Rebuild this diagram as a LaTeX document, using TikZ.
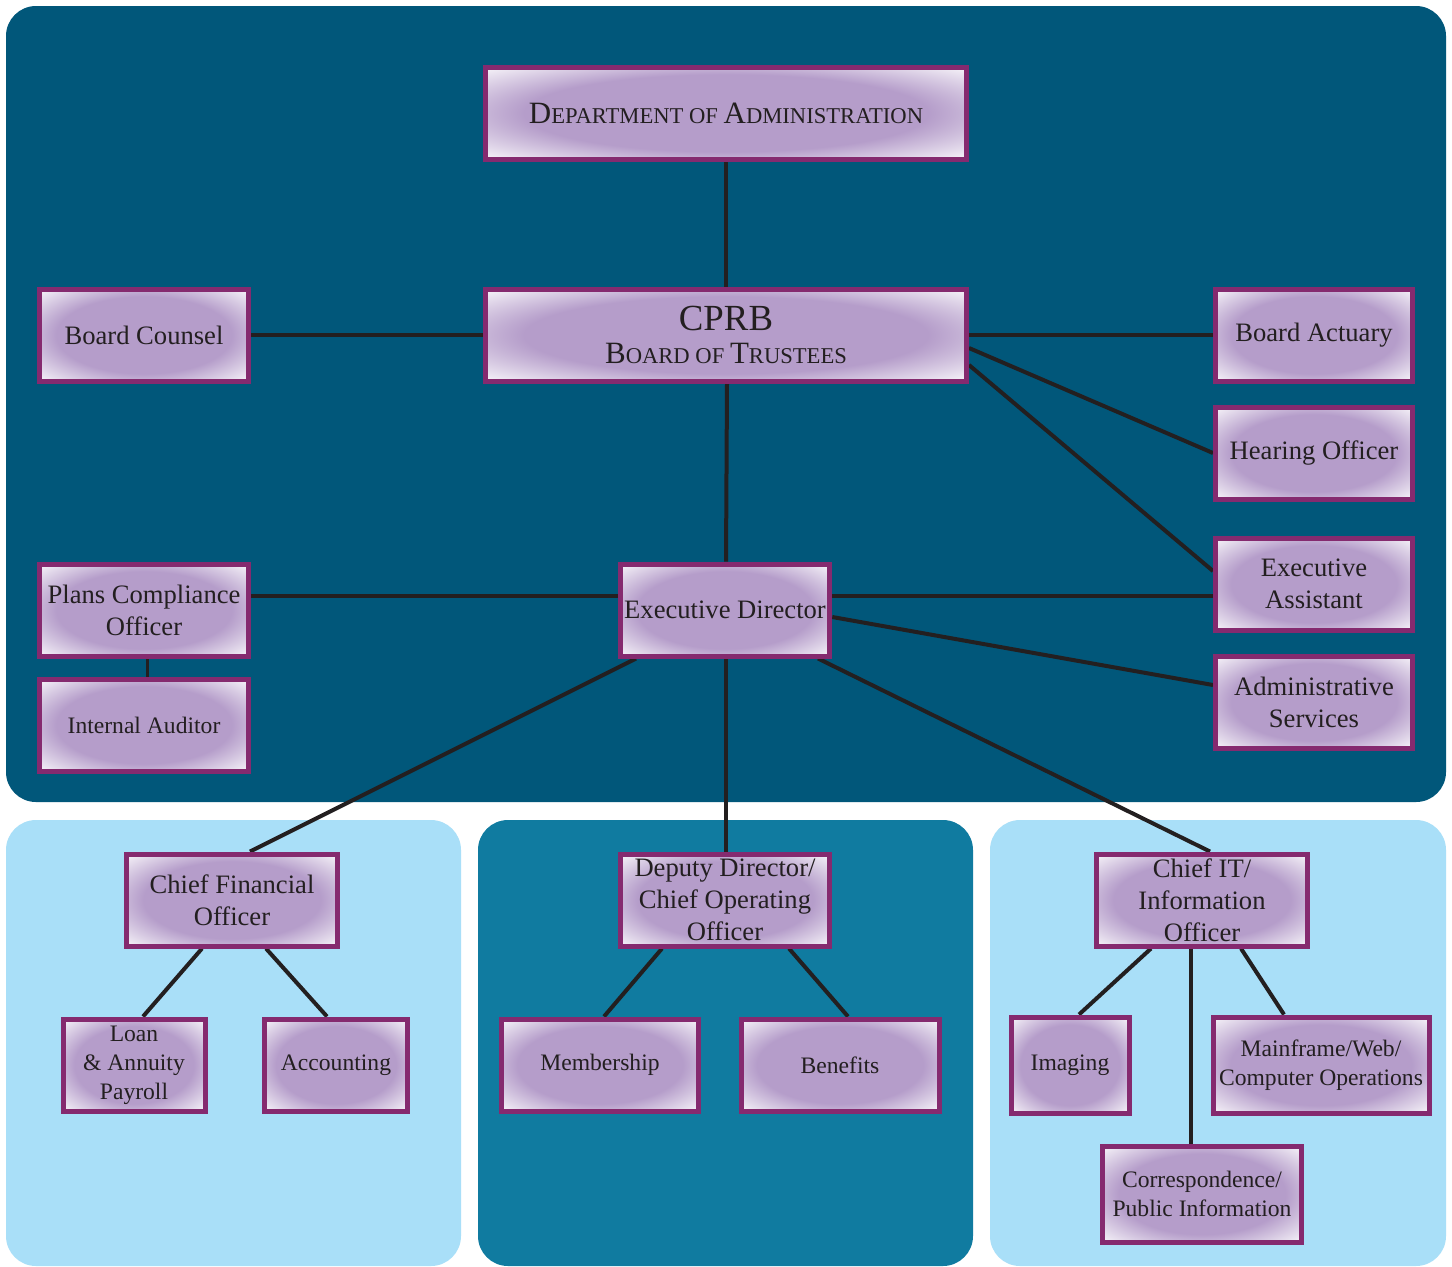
\documentclass[tikz,border=0pt]{standalone}
\usepackage{fontspec}
\setmainfont{Liberation Serif}
\usetikzlibrary{calc}
\definecolor{darkpanel}{HTML}{01577A}
\definecolor{midpanel}{HTML}{107BA0}
\definecolor{lightpanel}{HTML}{A9DFF8}
\definecolor{boxborder}{HTML}{852A6F}
\definecolor{boxp}{HTML}{B59DCA}
\definecolor{linec}{HTML}{231F20}
\definecolor{textc}{HTML}{231F20}
\pgfdeclareradialshading{boxsh}{\pgfpoint{0bp}{0bp}}{color(0bp)=(boxp); color(21bp)=(boxp); color(37bp)=(white); color(50bp)=(white)}
\pgfdeclarelayer{bg}
\pgfdeclarelayer{lines}
\pgfsetlayers{bg,lines,main}
\newcommand{\bigtxt}{\fontsize{13.3pt}{16pt}\selectfont}
\newcommand{\smalltxt}{\fontsize{11.8pt}{14.5pt}\selectfont}
\newcommand{\capL}[1]{{\fontsize{15.5pt}{16pt}\selectfont #1}}
\tikzset{
  box/.style={draw=boxborder, line width=2.5pt, shade, shading=boxsh,
    minimum height=46pt, inner xsep=2pt, inner ysep=0pt, align=center,
    text=textc},
  bigbox/.style={box, font=\bigtxt},
  smallbox/.style={box, font=\smalltxt},
  conn/.style={draw=linec, line width=2pt},
  thinconn/.style={draw=linec, line width=1.5pt},
}
\begin{document}
\begin{tikzpicture}[x=0.5pt, y=-0.5pt]
\useasboundingbox (0,0) rectangle (1452,1266);
% nodes
\node[box, minimum width=240.5pt] (dept) at (726,113)
  {\fontsize{11.3pt}{13pt}\selectfont \capL{D}EPARTMENT OF \capL{A}DMINISTRATION};
\node[box, minimum width=240.5pt] (cprb) at (726,335)
  {\raisebox{-3pt}{\fontsize{18.4pt}{18pt}\selectfont CPRB}\\[5pt]{\fontsize{11.3pt}{13pt}\selectfont \capL{B}OARD OF \capL{T}RUSTEES}};
\node[bigbox, minimum width=104.5pt] (bc) at (144,335) {Board Counsel};
\node[bigbox, minimum width=98.5pt] (act) at (1314,335) {Board Actuary};
\node[bigbox, minimum width=98.5pt] (hear) at (1314,453) {Hearing Officer};
\node[bigbox, minimum width=98.5pt] (ea) at (1314,584) {Executive\\Assistant};
\node[bigbox, minimum width=98.5pt] (as) at (1314,702) {Administrative\\Services};
\node[bigbox, minimum width=104.5pt] (ed) at (725,610) {Executive Director};
\node[bigbox, minimum width=104.5pt] (pc) at (144,610) {Plans Compliance\\Officer};
\node[smallbox, minimum width=104.5pt] (ia) at (144,725) {Internal Auditor};
\node[bigbox, minimum width=105.5pt] (cfo) at (232,900) {Chief Financial\\Officer};
\node[bigbox, minimum width=104.5pt] (dd) at (725,900) {Deputy Director/\\Chief Operating\\Officer};
\node[bigbox, minimum width=105.5pt] (cit) at (1202,900) {Chief IT/\\Information\\Officer};
\node[smallbox, minimum width=71pt] (loan) at (134,1065) {Loan\\\&~Annuity\\Payroll};
\node[smallbox, minimum width=71.5pt] (acc) at (336,1065) {Accounting};
\node[smallbox, minimum width=98.5pt] (mem) at (600,1065) {Membership};
\node[smallbox, minimum width=99pt] (ben) at (840,1065) {Benefits};
\node[smallbox, minimum width=59pt, minimum height=48pt] (img) at (1070,1065) {Imaging};
\node[smallbox, minimum width=108pt, minimum height=48pt] (mf) at (1321,1065) {Mainframe/Web/\\Computer Operations};
\node[smallbox, minimum width=99.5pt, minimum height=48pt] (cor) at (1202,1194) {Correspondence/\\Public Information};
% panels
\begin{pgfonlayer}{bg}
  \fill[white] (0,0) rectangle (1452,1266);
  \fill[darkpanel, rounded corners=15pt] (6,6) rectangle (1446,802);
  \fill[lightpanel, rounded corners=15pt] (6,820) rectangle (461,1266);
  \fill[midpanel, rounded corners=15pt] (478,820) rectangle (973,1266);
  \fill[lightpanel, rounded corners=15pt] (990,820) rectangle (1446,1266);
\end{pgfonlayer}
% connectors
\begin{pgfonlayer}{lines}
  \draw[conn] (dept) -- (cprb);
  \draw[conn] (bc.east) -- (bc.east -| cprb.west);
  \draw[conn] (cprb.east |- act.west) -- (act.west);
  \draw[conn] ($(cprb.east)+(0,13)$) -- (hear.west);
  \draw[conn] ($(cprb.east)+(0,30)$) -- ($(ea.west)+(0,-13)$);
  \draw[conn] ($(cprb.south)+(1,0)$) -- ($(ed.north)+(1,0)$);
  \draw[conn] ($(pc.east)+(0,-14)$) -- ($(ed.west)+(0,-14)$);
  \draw[conn] ($(ed.east)+(0,-14)$) -- ($(ea.west)+(0,12)$);
  \draw[conn] ($(ed.east)+(0,7)$) -- ($(as.west)+(0,-17)$);
  \draw[thinconn] ($(pc.south)+(3,0)$) -- ($(ia.north)+(3,0)$);
  \draw[conn] ($(ed.south)+(-89,0)$) -- ($(cfo.north)+(18,0)$);
  \draw[conn] ($(ed.south)+(1,0)$) -- ($(dd.north)+(1,0)$);
  \draw[conn] ($(ed.south)+(93,0)$) -- ($(cit.north)+(8,0)$);
  \draw[conn] ($(cfo.south)+(-30,0)$) -- ($(loan.north)+(9,0)$);
  \draw[conn] ($(cfo.south)+(34,0)$) -- ($(acc.north)+(-9,0)$);
  \draw[conn] ($(dd.south)+(-63,0)$) -- ($(mem.north)+(4,0)$);
  \draw[conn] ($(dd.south)+(64,0)$) -- ($(ben.north)+(8,0)$);
  \draw[conn] ($(cit.south)+(-51,0)$) -- ($(img.north)+(9,0)$);
  \draw[conn] ($(cit.south)+(-11,0)$) -- ($(cor.north)+(-11,0)$);
  \draw[conn] ($(cit.south)+(39,0)$) -- ($(mf.north)+(-37,0)$);
\end{pgfonlayer}
\end{tikzpicture}
\end{document}
